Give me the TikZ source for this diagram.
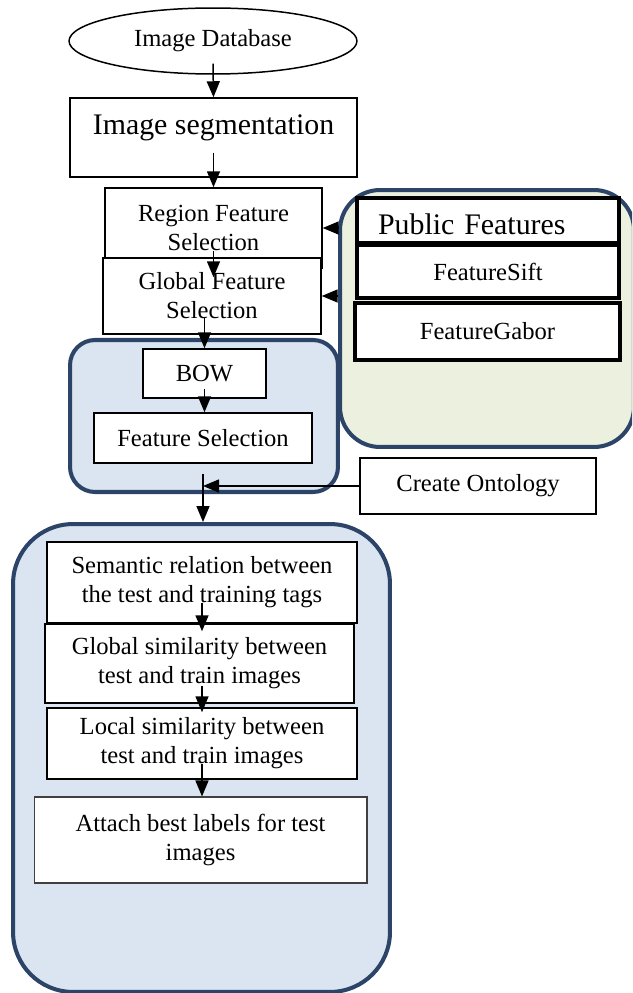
\documentclass[tikz,border=0pt]{standalone}
\usepackage{fontspec}
\setmainfont{Liberation Serif}
\usepackage{tikz}
\usetikzlibrary{arrows.meta,positioning,shapes.geometric}
\definecolor{panelline}{HTML}{2B4468}
\definecolor{panelblue}{HTML}{DBE5F1}
\definecolor{panelgreen}{HTML}{EBF1DE}

\begin{document}
\begin{tikzpicture}[
  x=0.02cm, y=-0.02cm,
  every node/.style={font=\fontsize{14}{16.5}\selectfont},
  box/.style={draw, line width=0.85pt, fill=white, align=center, inner sep=0pt},
  bigtxt/.style={font=\fontsize{17}{20}\selectfont},
  feat/.style={draw, line width=2.6pt, fill=white, align=center, inner sep=0pt,
               minimum width=5.24cm},
  panel/.style={draw=panelline, line width=2.3pt, fill=panelblue, inner sep=0pt},
  arr/.style={-{Triangle[length=0.32cm, width=0.26cm]}, line width=0.85pt}
]
\clip (0,0) rectangle (632,993);

%% Containers
\node[panel, rounded corners=0.5cm, minimum width=5.36cm, minimum height=3.04cm] (bowpanel) at (204,416) {};
\node[panel, fill=panelgreen, rounded corners=0.8cm, minimum width=5.88cm, minimum height=5.14cm] (pubpanel) at (487,318.5) {};
\node[panel, rounded corners=1.2cm, minimum width=7.54cm, minimum height=9.36cm] (tagpanel) at (201.5,758) {};

%% Feature extraction
\node[box, ellipse, minimum width=5.76cm, minimum height=1.32cm] (db) at (213,41) {Image Database};
\node[box, bigtxt, minimum width=5.74cm, text height=0.74cm, text depth=0.84cm] (seg) at (213.5,137.5) {Image segmentation};
\node[box, minimum width=4.34cm, minimum height=1.6cm] (region) at (213.5,228) {Region Feature\\Selection};
\node[box, minimum width=4.36cm, minimum height=1.52cm] (global) at (212,296) {Global Feature\\Selection};

%% Public features
\node[feat, bigtxt, align=left, text width=4.40cm, inner xsep=0.42cm, text height=0.74cm, text depth=0.16cm] (pub) at (488,220.5) {Public Features};
\node[feat, minimum height=1.06cm] (sift) at (488,271.5) {FeatureSift};
\node[feat, minimum width=5.3cm, minimum height=1.14cm] (gabor) at (487.5,331.5) {FeatureGabor};

%% BOW
\node[box, minimum width=2.46cm, minimum height=0.98cm] (bow) at (204.5,373.5) {BOW};
\node[box, minimum width=4.36cm, minimum height=1.0cm] (fsel) at (203,438) {Feature Selection};
\node[box, minimum width=4.72cm, minimum height=1.12cm] (onto) at (478,486) {Create Ontology};

%% Tag relevance
\node[box, minimum width=6.2cm, minimum height=1.62cm] (sem) at (202,582.5) {Semantic relation between\\the test and training tags};
\node[box, minimum width=6.18cm, minimum height=1.58cm] (gsim) at (199.5,663.5) {Global similarity between\\test and train images};
\node[box, minimum width=6.2cm, minimum height=1.42cm] (lsim) at (202,743.5) {Local similarity between\\test and train images};
\node[box, draw=black!75, line width=0.6pt, minimum width=6.66cm, minimum height=1.72cm] (attach) at (200.5,840) {Attach best labels for test\\images};

%% Arrows
\draw[arr] ([yshift=0.22cm]db.south) -- (seg.north);
\draw[arr] ([yshift=0.5cm]seg.south) -- (region.north);
\draw[arr] ([yshift=0.36cm]region.south) -- ([yshift=-0.4cm]global.north -| region.south);
\draw[arr] ([yshift=0.34cm]global.south -| bow.north) -- (bow.north);
\draw[arr] ([yshift=0.2cm]bow.south) -- (fsel.north -| bow.south);
\draw[arr] ([yshift=-0.2cm]fsel.south) -- (tagpanel.north -| fsel.south);
\draw[arr] (onto.west) -- (onto.west -| fsel.south);
\draw[arr] (pubpanel.west |- region.east) -- (region.east);
\draw[arr] (pubpanel.west |- global.east) -- (global.east);
\draw[arr] ([yshift=0.42cm]sem.south) -- ([yshift=-0.16cm]gsim.north -| sem.south);
\draw[arr] ([yshift=0.36cm]gsim.south -| sem.south) -- ([yshift=-0.1cm]lsim.north -| sem.south);
\draw[arr] ([yshift=0.32cm]lsim.south -| sem.south) -- (attach.north -| sem.south);

\end{tikzpicture}
\end{document}
